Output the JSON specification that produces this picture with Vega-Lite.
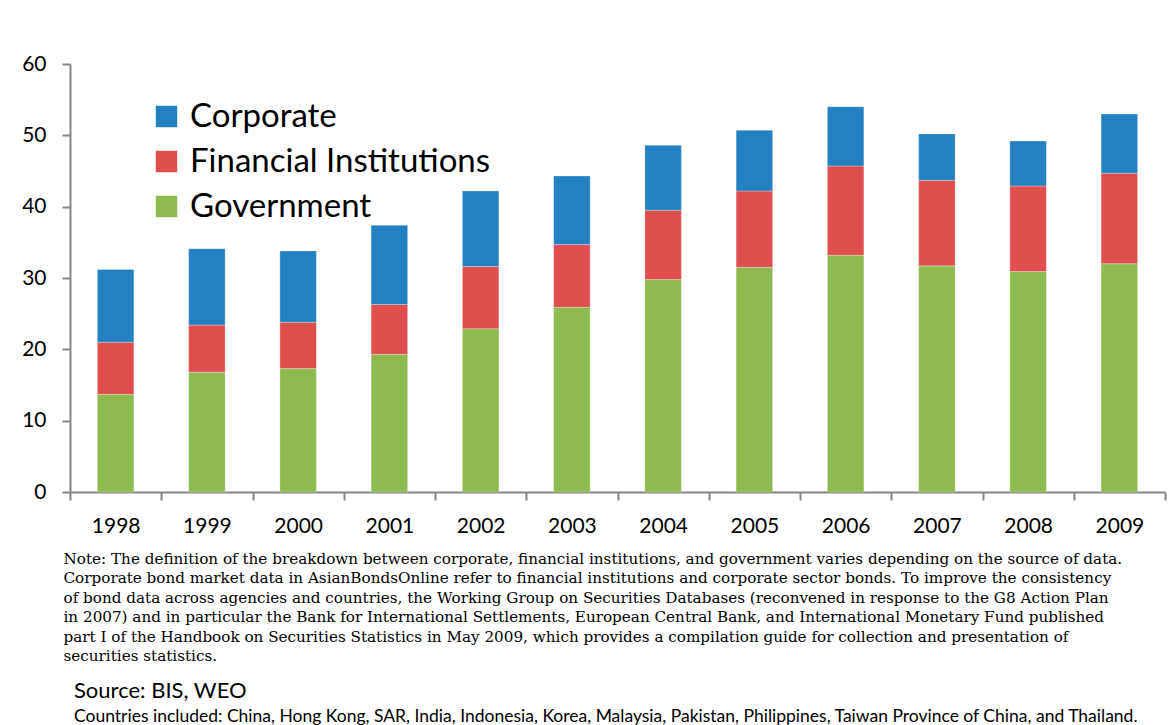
{
  "$schema": "https://vega.github.io/schema/vega-lite/v6.json",
  "width": 1095,
  "height": 428,
  "autosize": {"type": "none"},
  "padding": {"left": 70, "top": 64, "right": 11, "bottom": 233},
  "background": "white",
  "data": {
    "values": [
      {"year": "1998", "sector": "Government", "value": 13.7},
      {"year": "1998", "sector": "Financial Institutions", "value": 7.3},
      {"year": "1998", "sector": "Corporate", "value": 10.2},
      {"year": "1999", "sector": "Government", "value": 16.8},
      {"year": "1999", "sector": "Financial Institutions", "value": 6.6},
      {"year": "1999", "sector": "Corporate", "value": 10.7},
      {"year": "2000", "sector": "Government", "value": 17.3},
      {"year": "2000", "sector": "Financial Institutions", "value": 6.5},
      {"year": "2000", "sector": "Corporate", "value": 10.0},
      {"year": "2001", "sector": "Government", "value": 19.3},
      {"year": "2001", "sector": "Financial Institutions", "value": 7.0},
      {"year": "2001", "sector": "Corporate", "value": 11.1},
      {"year": "2002", "sector": "Government", "value": 22.9},
      {"year": "2002", "sector": "Financial Institutions", "value": 8.7},
      {"year": "2002", "sector": "Corporate", "value": 10.6},
      {"year": "2003", "sector": "Government", "value": 25.9},
      {"year": "2003", "sector": "Financial Institutions", "value": 8.8},
      {"year": "2003", "sector": "Corporate", "value": 9.6},
      {"year": "2004", "sector": "Government", "value": 29.8},
      {"year": "2004", "sector": "Financial Institutions", "value": 9.7},
      {"year": "2004", "sector": "Corporate", "value": 9.1},
      {"year": "2005", "sector": "Government", "value": 31.5},
      {"year": "2005", "sector": "Financial Institutions", "value": 10.7},
      {"year": "2005", "sector": "Corporate", "value": 8.5},
      {"year": "2006", "sector": "Government", "value": 33.2},
      {"year": "2006", "sector": "Financial Institutions", "value": 12.5},
      {"year": "2006", "sector": "Corporate", "value": 8.3},
      {"year": "2007", "sector": "Government", "value": 31.7},
      {"year": "2007", "sector": "Financial Institutions", "value": 12.0},
      {"year": "2007", "sector": "Corporate", "value": 6.5},
      {"year": "2008", "sector": "Government", "value": 30.9},
      {"year": "2008", "sector": "Financial Institutions", "value": 12.0},
      {"year": "2008", "sector": "Corporate", "value": 6.3},
      {"year": "2009", "sector": "Government", "value": 32.0},
      {"year": "2009", "sector": "Financial Institutions", "value": 12.7},
      {"year": "2009", "sector": "Corporate", "value": 8.3}
    ]
  },
  "title": {
    "text": "Source:  BIS, WEO",
    "subtitle": "Countries included:  China, Hong Kong, SAR, India, Indonesia, Korea, Malaysia, Pakistan, Philippines, Taiwan Province of China, and  Thailand.",
    "orient": "bottom",
    "anchor": "start",
    "frame": "group",
    "offset": 17,
    "dx": 4,
    "font": "Lato",
    "fontSize": 22,
    "fontWeight": "normal",
    "color": "#000000",
    "subtitleFont": "Lato",
    "subtitleFontSize": 17.5,
    "subtitleColor": "#000000",
    "subtitlePadding": 5
  },
  "mark": {"type": "bar", "width": {"band": 0.4}, "stroke": "#ffffff", "strokeOpacity": 0.35, "strokeWidth": 0.8},
  "encoding": {
    "x": {
      "field": "year",
      "type": "ordinal",
      "scale": {"paddingInner": 0, "paddingOuter": 0},
      "axis": {
        "title": [
          "Note: The definition of the breakdown between corporate, financial institutions, and government varies depending on the source of data.",
          "Corporate bond market data in AsianBondsOnline refer to financial institutions and corporate sector bonds. To improve the consistency",
          "of bond data across agencies and countries, the Working Group on Securities Databases (reconvened in response to the G8 Action Plan",
          "in 2007) and in particular the Bank for International Settlements, European Central Bank, and International Monetary Fund published",
          "part I of the Handbook on Securities Statistics in May 2009, which provides a compilation guide for collection and presentation of",
          "securities statistics."
        ],
        "titleFont": "DejaVu Serif",
        "titleFontSize": 15.2,
        "titleFontWeight": "normal",
        "titleColor": "#000000",
        "titleAnchor": "start",
        "titleAlign": "left",
        "titleBaseline": "top",
        "titleX": -7,
        "titleY": 59,
        "titleLineHeight": 19.5,
        "labelAngle": 0,
        "labelFont": "Lato",
        "labelFontSize": 21,
        "labelColor": "#000000",
        "labelPadding": 15,
        "tickBand": "extent",
        "tickSize": 8,
        "tickColor": "#868686",
        "tickWidth": 2,
        "domainColor": "#868686",
        "domainWidth": 2
      }
    },
    "y": {
      "field": "value",
      "type": "quantitative",
      "aggregate": "sum",
      "scale": {"domain": [0, 60]},
      "axis": {
        "title": null,
        "values": [0, 10, 20, 30, 40, 50, 60],
        "grid": false,
        "labelFont": "Lato",
        "labelFontSize": 21,
        "labelColor": "#000000",
        "labelPadding": 16,
        "tickSize": 8,
        "tickColor": "#868686",
        "tickWidth": 2,
        "domainColor": "#868686",
        "domainWidth": 2
      }
    },
    "color": {
      "field": "sector",
      "type": "nominal",
      "scale": {
        "domain": ["Corporate", "Financial Institutions", "Government"],
        "range": ["#2381C2", "#DE4F4E", "#8DBB4F"]
      },
      "legend": {
        "title": null,
        "orient": "none",
        "legendX": 80,
        "legendY": 36,
        "symbolType": "square",
        "symbolSize": 460,
        "symbolStrokeWidth": 0,
        "symbolOpacity": 1,
        "labelFont": "Lato",
        "labelFontSize": 33,
        "labelColor": "#000000",
        "labelOffset": 7,
        "rowPadding": 11,
        "labelLimit": 0
      }
    },
    "order": {"field": "sector", "sort": "descending"}
  },
  "config": {
    "view": {"stroke": null}
  }
}
